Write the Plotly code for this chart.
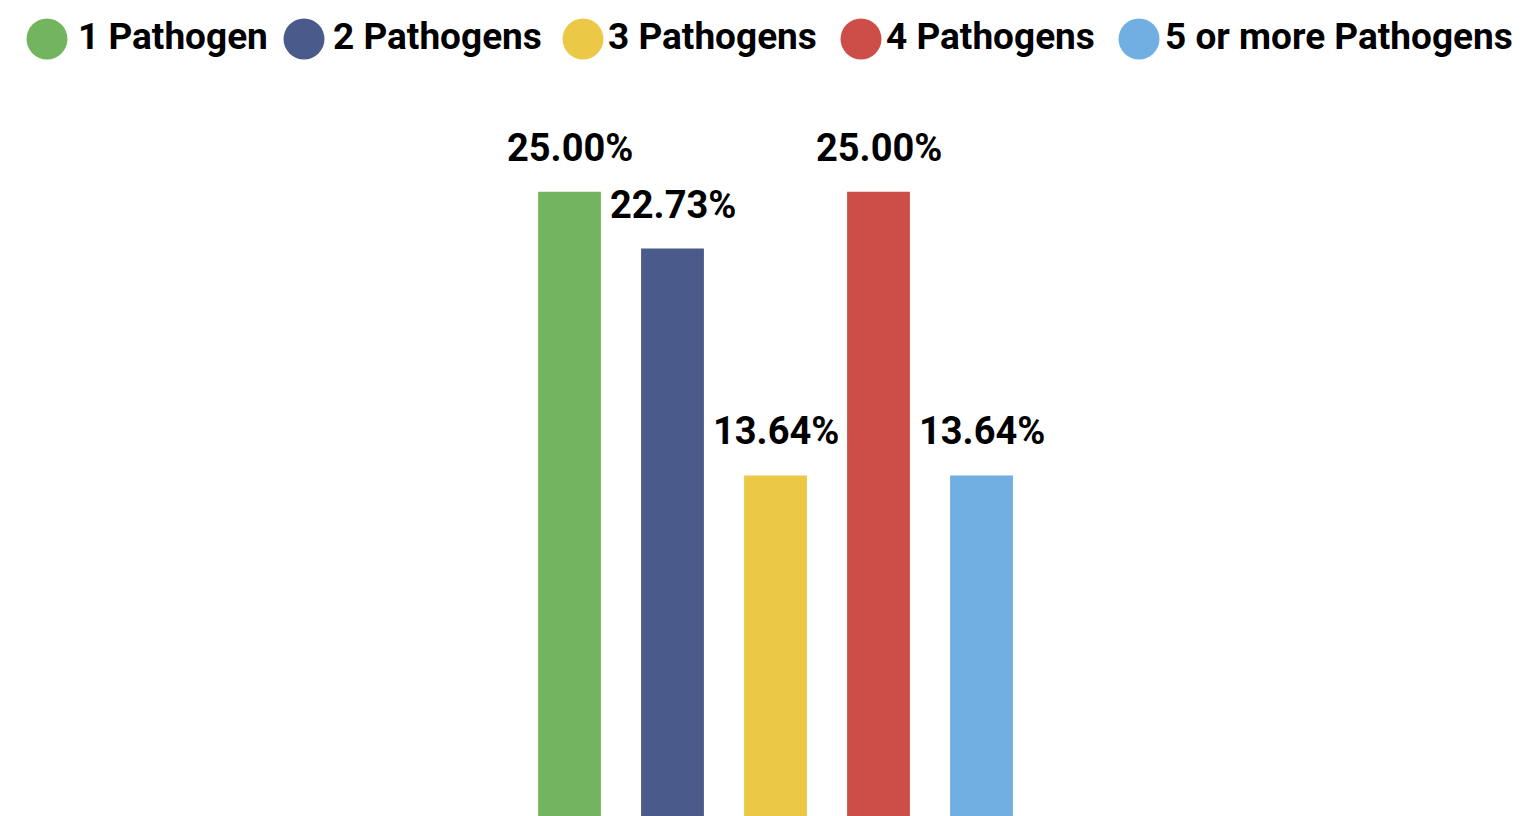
import plotly.graph_objects as go

# Share of samples by number of pathogens detected
CATEGORIES = ['1 Pathogen', '2 Pathogens', '3 Pathogens', '4 Pathogens', '5 or more Pathogens']
PERCENTAGES = [25.00, 22.73, 13.64, 25.00, 13.64]
COLORS = ['#73b55f', '#4a5a8a', '#ecc847', '#cd4e48', '#71afe2']

FONT = 'Roboto, DejaVu Sans Condensed, sans-serif'
W, H = 1527, 816
ML, MR, MT, MB = 518, 494, 67, 0
PW, PH = W - ML - MR, H - MT - MB


def px_x(px):
    """pixel x -> paper x"""
    return (px - ML) / PW


def px_y(py):
    """pixel y (from top) -> paper y"""
    return (H - MB - py) / PH


fig = go.Figure()
fig.add_trace(go.Bar(
    x=CATEGORIES, y=PERCENTAGES,
    marker=dict(color=COLORS, line=dict(width=0)),
    width=0.61, showlegend=False, hoverinfo='x+y',
))

# value labels above bars
for cat, val in zip(CATEGORIES, PERCENTAGES):
    fig.add_annotation(
        x=cat, y=val, xref='x', yref='y', text=f'<b>{val:.2f}%</b>',
        showarrow=False, yanchor='bottom', yshift=20,
        font=dict(family=FONT, size=38, color='#000000'),
    )

# custom legend with large circles
legend_circle_x = [47, 304, 583, 861, 1139]
legend_text_x = [76, 331, 606, 884, 1163]
for cat, col, cx, tx in zip(CATEGORIES, COLORS, legend_circle_x, legend_text_x):
    fig.add_shape(
        type='circle', xref='paper', yref='paper',
        xsizemode='pixel', ysizemode='pixel',
        xanchor=px_x(cx), yanchor=px_y(39),
        x0=-20.5, x1=20.5, y0=-20.5, y1=20.5,
        fillcolor=col, line=dict(width=0),
    )
    fig.add_annotation(
        x=px_x(tx), y=px_y(37), xref='paper', yref='paper',
        text=f'<b>{cat}</b>', showarrow=False,
        xanchor='left', yanchor='middle',
        font=dict(family=FONT, size=37, color='#000000'),
    )

fig.update_layout(
    width=W, height=H,
    margin=dict(l=ML, r=MR, t=MT, b=MB, pad=0),
    paper_bgcolor='white', plot_bgcolor='white',
    xaxis=dict(range=[-0.5, 4.5], showgrid=False, showticklabels=False,
               zeroline=False, showline=False, ticks=''),
    yaxis=dict(range=[0, 30], showgrid=False, showticklabels=False,
               zeroline=False, showline=False, ticks=''),
    font=dict(family=FONT),
)

# drop the default page margin so the figure sits at the window's corner
fig.write_html('out.html', config={'displayModeBar': False},
               post_script="document.body.style.margin='0';"
                           "document.body.style.overflow='hidden';")
